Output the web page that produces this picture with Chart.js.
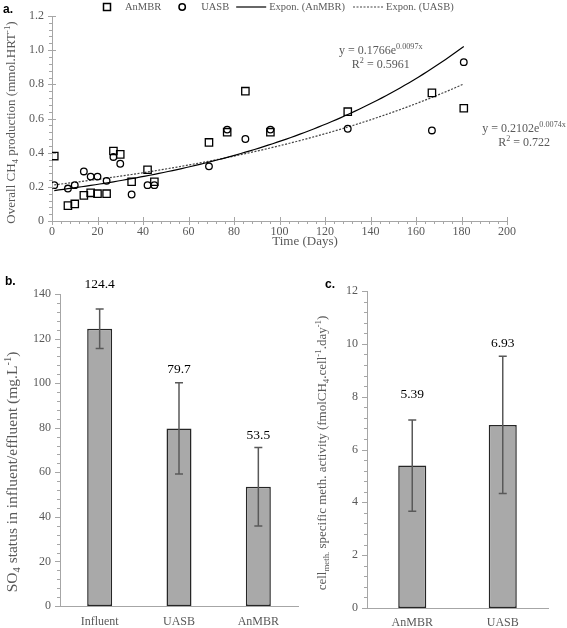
<!DOCTYPE html>
<html>
<head>
<meta charset="utf-8">
<script src="https://cdn.jsdelivr.net/npm/chart.js@4.4.0/dist/chart.umd.min.js"></script>
<style>
  body { margin: 0; background: #fff; }
  #wrap { position: relative; width: 567px; height: 628px; }
  .box { position: absolute; }
</style>
</head>
<body>
<div id="wrap">
  <div class="box" style="left:0;top:0;width:567px;height:252px"><canvas id="ch4-chart"></canvas></div>
  <div class="box" style="left:0;top:262px;width:300px;height:366px"><canvas id="so4-chart"></canvas></div>
  <div class="box" style="left:300px;top:262px;width:267px;height:366px"><canvas id="act-chart"></canvas></div>
</div>
<script>
// ---- data ----
const days = [1, 7, 10, 14, 17, 20, 24, 27, 30, 35, 42, 45, 69, 77, 85, 96, 130, 167, 181];
const anmbrCH4 = [0.38, 0.09, 0.10, 0.15, 0.165, 0.16, 0.16, 0.41, 0.39, 0.23, 0.30, 0.23, 0.46, 0.52, 0.76, 0.52, 0.64, 0.75, 0.66];
const uasbCH4 = [0.21, 0.19, 0.21, 0.29, 0.26, 0.26, 0.235, 0.375, 0.335, 0.155, 0.21, 0.21, 0.32, 0.535, 0.48, 0.535, 0.54, 0.53, 0.93];
// exponential trendlines as printed on the chart: y = a * e^(b x)
const anmbrFit = { a: 0.1766, b: 0.0097, r2: '0.5961' };
const uasbFit = { a: 0.2102, b: 0.0074, r2: '0.722' };

const so4Labels = ['Influent', 'UASB', 'AnMBR'];
const so4Mean = [124.4, 79.7, 53.5];
const so4Err = [8.9, 20.5, 17.6];

const actLabels = ['AnMBR', 'UASB'];
const actMean = [5.39, 6.93];
const actErr = [1.73, 2.6];

const SERIF = "'Liberation Serif', 'DejaVu Serif', serif";
const GREY = '#595959';
const AXIS = '#a6a6a6';
Chart.defaults.font.family = SERIF;
Chart.defaults.color = GREY;

// draws text with sub/superscript pieces, centred on (x, y)
function drawRich(ctx, parts, x, y, size, color, rotate) {
  ctx.save();
  ctx.translate(x, y);
  if (rotate) ctx.rotate(-Math.PI / 2);
  ctx.textBaseline = 'middle';
  ctx.textAlign = 'left';
  ctx.fillStyle = color;
  let total = 0;
  const sized = parts.map(([t, mode]) => {
    const s = mode ? size * 0.68 : size;
    ctx.font = s + 'px ' + SERIF;
    const w = ctx.measureText(t).width;
    total += w;
    return { t, mode, s, w };
  });
  let cx = -total / 2;
  sized.forEach(p => {
    ctx.font = p.s + 'px ' + SERIF;
    const dy = p.mode === 'sub' ? size * 0.3 : p.mode === 'sup' ? -size * 0.32 : 0;
    ctx.fillText(p.t, cx, dy);
    cx += p.w;
  });
  ctx.restore();
}

function panelLetter(ctx, txt, x, y) {
  ctx.save();
  ctx.font = "bold 12px 'Liberation Sans', sans-serif";
  ctx.fillStyle = '#000';
  ctx.textBaseline = 'middle';
  ctx.fillText(txt, x, y);
  ctx.restore();
}

// major + minor tick marks on the axes
const tickMarks = {
  id: 'tickMarks',
  afterDraw(chart, args, opts) {
    const { ctx, chartArea } = chart;
    ctx.save();
    ctx.strokeStyle = AXIS;
    ctx.lineWidth = 1;
    opts.axes.forEach(a => {
      const sc = chart.scales[a.id];
      const n = Math.round((sc.max - sc.min) / a.minor);
      for (let k = 0; k <= n; k++) {
        const v = sc.min + k * a.minor;
        const major = Math.abs(v / a.major - Math.round(v / a.major)) < 1e-6;
        const [out, inn] = major ? a.majorLen : a.minorLen;
        const p = Math.round(sc.getPixelForValue(v)) + 0.5;
        ctx.beginPath();
        if (sc.isHorizontal()) {
          ctx.moveTo(p, chartArea.bottom - inn);
          ctx.lineTo(p, chartArea.bottom + out);
        } else {
          ctx.moveTo(chartArea.left - out, p);
          ctx.lineTo(chartArea.left + inn, p);
        }
        ctx.stroke();
      }
    });
    ctx.restore();
  }
};

// error bars and value labels for the bar charts
const errorBars = {
  id: 'errorBars',
  afterDatasetsDraw(chart, args, opts) {
    const { ctx } = chart;
    const meta = chart.getDatasetMeta(0);
    const ys = chart.scales.y;
    const vals = chart.data.datasets[0].data;
    ctx.save();
    meta.data.forEach((bar, i) => {
      const hi = ys.getPixelForValue(vals[i] + opts.err[i]);
      const lo = ys.getPixelForValue(vals[i] - opts.err[i]);
      ctx.strokeStyle = GREY;
      ctx.lineWidth = 1.5;
      ctx.beginPath();
      ctx.moveTo(bar.x, hi); ctx.lineTo(bar.x, lo);
      ctx.moveTo(bar.x - 4, hi); ctx.lineTo(bar.x + 4, hi);
      ctx.moveTo(bar.x - 4, lo); ctx.lineTo(bar.x + 4, lo);
      ctx.stroke();
      ctx.fillStyle = '#000';
      ctx.font = '13.5px ' + SERIF;
      ctx.textAlign = 'center';
      ctx.textBaseline = 'middle';
      ctx.fillText(opts.fmt(vals[i]), bar.x, hi - opts.lift[i]);
    });
    ctx.restore();
  }
};

// ---- a. CH4 production over time ----
const fitDays = [];
for (let d = days[0]; d <= days[days.length - 1]; d += 2) fitDays.push(d);
fitDays.push(days[days.length - 1]);
const anmbrTrend = fitDays.map(d => ({ x: d, y: anmbrFit.a * Math.exp(anmbrFit.b * d) }));
const uasbTrend = fitDays.map(d => ({ x: d, y: uasbFit.a * Math.exp(uasbFit.b * d) }));

const ch4Decor = {
  id: 'ch4Decor',
  afterDraw(chart) {
    const { ctx, chartArea, scales } = chart;
    panelLetter(ctx, 'a.', 3, 10);

    // legend
    ctx.save();
    ctx.font = '10.5px ' + SERIF;
    ctx.fillStyle = GREY;
    ctx.textBaseline = 'middle';
    const ly = 7;
    let x = 103;
    const items = [
      { sym: 'rect', w: 8, gap: 14, text: 'AnMBR', after: 17 },
      { sym: 'circle', w: 8, gap: 15, text: 'UASB', after: 7 },
      { sym: 'solid', w: 30, gap: 3, text: 'Expon. (AnMBR)', after: 8 },
      { sym: 'dotted', w: 30, gap: 3, text: 'Expon. (UASB)', after: 0 }
    ];
    items.forEach(it => {
      ctx.strokeStyle = '#000';
      ctx.lineWidth = 1.5;
      ctx.setLineDash([]);
      ctx.beginPath();
      if (it.sym === 'rect') ctx.rect(x + 0.5, ly - 3.5, 7, 7);
      else if (it.sym === 'circle') ctx.arc(x + 4, ly, 3.2, 0, Math.PI * 2);
      else {
        ctx.lineWidth = 1.2;
        if (it.sym === 'dotted') { ctx.setLineDash([2, 1.5]); ctx.strokeStyle = '#444'; }
        ctx.moveTo(x, ly); ctx.lineTo(x + it.w, ly);
      }
      ctx.stroke();
      x += it.w + it.gap;
      ctx.fillText(it.text, x, ly);
      x += ctx.measureText(it.text).width + it.after;
    });
    ctx.restore();

    // trendline equations, anchored in data space
    const ex = scales.x, ey = scales.y;
    const e1x = ex.getPixelForValue(144.5), e1y = ey.getPixelForValue(0.995);
    drawRich(ctx, [['y = ' + anmbrFit.a + 'e', ''], [anmbrFit.b.toFixed(4) + 'x', 'sup']], e1x, e1y, 12, GREY);
    drawRich(ctx, [['R', ''], ['2', 'sup'], [' = ' + anmbrFit.r2, '']], e1x, e1y + 14, 12, GREY);
    const e2x = ex.getPixelForValue(207.5), e2y = ey.getPixelForValue(0.54);
    drawRich(ctx, [['y = ' + uasbFit.a + 'e', ''], [uasbFit.b.toFixed(4) + 'x', 'sup']], e2x, e2y, 12, GREY);
    drawRich(ctx, [['R', ''], ['2', 'sup'], [' = ' + uasbFit.r2, '']], e2x, e2y + 14, 12, GREY);

    // axis titles
    drawRich(ctx, [['Overall CH', ''], ['4', 'sub'], [' production (mmol.HRT', ''], ['-1', 'sup'], [')', '']],
      12, (chartArea.top + chartArea.bottom) / 2 + 4, 13, GREY, true);
    drawRich(ctx, [['Time (Days)', '']], 305, 242, 13, GREY);
  }
};

new Chart(document.getElementById('ch4-chart').getContext('2d'), {
  type: 'scatter',
  data: {
    datasets: [
      {
        label: 'AnMBR',
        data: days.map((d, i) => ({ x: d, y: anmbrCH4[i] })),
        pointStyle: 'rect',
        pointRadius: 5.2,
        borderColor: '#000',
        backgroundColor: 'rgba(0,0,0,0)',
        borderWidth: 1.3
      },
      {
        label: 'UASB',
        data: days.map((d, i) => ({ x: d, y: uasbCH4[i] })),
        pointStyle: 'circle',
        pointRadius: 3.3,
        borderColor: '#000',
        backgroundColor: 'rgba(0,0,0,0)',
        borderWidth: 1.3
      },
      {
        label: 'Expon. (AnMBR)',
        data: anmbrTrend,
        showLine: true,
        pointRadius: 0,
        borderColor: '#000',
        borderWidth: 1.2
      },
      {
        label: 'Expon. (UASB)',
        data: uasbTrend,
        showLine: true,
        pointRadius: 0,
        borderColor: '#444',
        borderDash: [2, 1.5],
        borderWidth: 1.2
      }
    ]
  },
  options: {
    responsive: true,
    maintainAspectRatio: false,
    animation: false,
    events: [],
    layout: { padding: { top: 16, right: 60, left: 0, bottom: 0 } },
    plugins: {
      legend: { display: false },
      tooltip: { enabled: false },
      tickMarks: {
        axes: [
          { id: 'x', major: 20, minor: 4, majorLen: [4, 4], minorLen: [3, 0] },
          { id: 'y', major: 0.2, minor: 0.04, majorLen: [4, 4], minorLen: [3, 0] }
        ]
      }
    },
    scales: {
      x: {
        min: 0, max: 200,
        ticks: { stepSize: 20, padding: 4, font: { size: 12 }, maxRotation: 0 },
        grid: { display: false, drawTicks: false },
        border: { color: AXIS },
        afterFit: s => { s.height = 31; }
      },
      y: {
        min: 0, max: 1.2,
        ticks: { stepSize: 0.2, padding: 8, font: { size: 12 } },
        grid: { display: false, drawTicks: false },
        border: { color: AXIS },
        afterFit: s => { s.width = 52; }
      }
    }
  },
  plugins: [tickMarks, ch4Decor]
});

// ---- b. SO4 influent / effluent ----
new Chart(document.getElementById('so4-chart').getContext('2d'), {
  type: 'bar',
  data: {
    labels: so4Labels,
    datasets: [{
      data: so4Mean,
      backgroundColor: '#a9a9a9',
      borderColor: '#262626',
      borderWidth: 1.5,
      borderSkipped: false,
      barPercentage: 0.315,
      categoryPercentage: 1
    }]
  },
  options: {
    responsive: true,
    maintainAspectRatio: false,
    animation: false,
    events: [],
    layout: { padding: { top: 32, right: 2, left: 0, bottom: 0 } },
    plugins: {
      legend: { display: false },
      tooltip: { enabled: false },
      tickMarks: { axes: [{ id: 'y', major: 20, minor: 4, majorLen: [5, 0], minorLen: [3, 0] }] },
      errorBars: { err: so4Err, lift: [24, 13, 12], fmt: v => v.toFixed(1) }
    },
    scales: {
      x: {
        ticks: { padding: 9, font: { size: 12 } },
        grid: { display: false, drawTicks: false },
        border: { color: AXIS },
        afterFit: s => { s.height = 22; }
      },
      y: {
        min: 0, max: 140,
        ticks: { stepSize: 20, padding: 9, font: { size: 12 } },
        grid: { display: false, drawTicks: false },
        border: { color: AXIS },
        afterFit: s => { s.width = 60; }
      }
    }
  },
  plugins: [tickMarks, errorBars, {
    id: 'so4Decor',
    afterDraw(chart) {
      const { ctx } = chart;
      panelLetter(ctx, 'b.', 5, 20);
      drawRich(ctx, [['SO', ''], ['4', 'sub'], [' status in influent/effluent (mg.L', ''], ['-1', 'sup'], [')', '']],
        13, 210, 15.5, GREY, true);
    }
  }]
});

// ---- c. cell specific methanogenic activity ----
new Chart(document.getElementById('act-chart').getContext('2d'), {
  type: 'bar',
  data: {
    labels: actLabels,
    datasets: [{
      data: actMean,
      backgroundColor: '#a9a9a9',
      borderColor: '#262626',
      borderWidth: 1.5,
      borderSkipped: false,
      barPercentage: 0.31,
      categoryPercentage: 1
    }]
  },
  options: {
    responsive: true,
    maintainAspectRatio: false,
    animation: false,
    events: [],
    layout: { padding: { top: 29, right: 19, left: 0, bottom: 0 } },
    plugins: {
      legend: { display: false },
      tooltip: { enabled: false },
      tickMarks: { axes: [{ id: 'y', major: 2, minor: 0.4, majorLen: [5, 0], minorLen: [3, 0] }] },
      errorBars: { err: actErr, lift: [25, 13], fmt: v => v.toFixed(2) }
    },
    scales: {
      x: {
        ticks: { padding: 8, font: { size: 12 } },
        grid: { display: false, drawTicks: false },
        border: { color: AXIS },
        afterFit: s => { s.height = 20; }
      },
      y: {
        min: 0, max: 12,
        ticks: { stepSize: 2, padding: 9, font: { size: 12 } },
        grid: { display: false, drawTicks: false },
        border: { color: AXIS },
        afterFit: s => { s.width = 67; }
      }
    }
  },
  plugins: [tickMarks, errorBars, {
    id: 'actDecor',
    afterDraw(chart) {
      const { ctx } = chart;
      panelLetter(ctx, 'c.', 25, 23);
      drawRich(ctx, [['cell', ''], ['meth.', 'sub'], [' specific meth. activity (fmolCH', ''], ['4', 'sub'],
        ['.cell', ''], ['-1', 'sup'], ['.day', ''], ['-1', 'sup'], [')', '']],
        23, 191, 13, GREY, true);
    }
  }]
});
</script>
</body>
</html>
